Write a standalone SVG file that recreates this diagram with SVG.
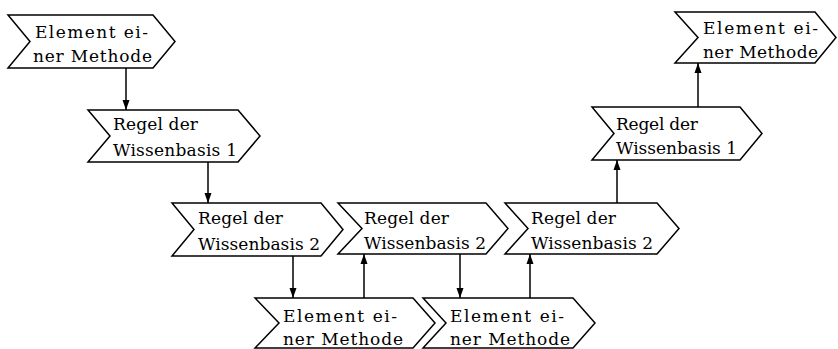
<svg xmlns="http://www.w3.org/2000/svg" width="838" height="349" viewBox="0 0 838 349">
<style>
.n{fill:#fff;stroke:#000;stroke-width:1.5;stroke-linejoin:miter}
.t{font-family:"DejaVu Serif","Liberation Serif",serif;font-size:17px;fill:#000}
.c{stroke:#000;stroke-width:1.5;fill:none;marker-end:url(#ah)}
</style>
<defs>
<marker id="ah" viewBox="0 0 10 10" refX="10" refY="5" markerWidth="11" markerHeight="10" markerUnits="userSpaceOnUse" orient="auto">
<path d="M0,1.5 L10,5 L0,8.5 Z" fill="#000"/>
</marker>
</defs>
<rect width="838" height="349" fill="#fff"/>
<g id="connectors">
<line class="c" x1="126" y1="68" x2="126" y2="110"/>
<line class="c" x1="208" y1="162" x2="208" y2="203"/>
<line class="c" x1="293" y1="256" x2="293" y2="298"/>
<line class="c" x1="364" y1="298" x2="364" y2="254"/>
<line class="c" x1="460" y1="254" x2="460" y2="298"/>
<line class="c" x1="530" y1="298" x2="530" y2="254"/>
<line class="c" x1="617" y1="203" x2="617" y2="160"/>
<line class="c" x1="698" y1="107" x2="698" y2="63"/>
</g>
<g id="n1">
<polygon class="n" points="8,15 153,15 175,41.5 153,68 8,68 30,41.5"/>
<text class="t" x="35" y="38" textLength="113" lengthAdjust="spacing">Element ei-</text>
<text class="t" x="33" y="62" textLength="119" lengthAdjust="spacing">ner Methode</text>
</g>
<g id="n2">
<polygon class="n" points="88,110 238,110 260,136 238,162 88,162 110,136"/>
<text class="t" x="113" y="130" textLength="85" lengthAdjust="spacing">Regel der</text>
<text class="t" x="113" y="156" textLength="124" lengthAdjust="spacing">Wissenbasis 1</text>
</g>
<g id="n3">
<polygon class="n" points="172,203 321,203 343,229.5 321,256 172,256 194,229.5"/>
<text class="t" x="198" y="224" textLength="85" lengthAdjust="spacing">Regel der</text>
<text class="t" x="198" y="250" textLength="122" lengthAdjust="spacing">Wissenbasis 2</text>
</g>
<g id="n4">
<polygon class="n" points="338,203 486,203 508,228.5 486,254 338,254 362,228.5"/>
<text class="t" x="364" y="224" textLength="85" lengthAdjust="spacing">Regel der</text>
<text class="t" x="364" y="249" textLength="122" lengthAdjust="spacing">Wissenbasis 2</text>
</g>
<g id="n5">
<polygon class="n" points="505,203 657,203 679,228.5 657,254 505,254 528,228.5"/>
<text class="t" x="531" y="224" textLength="85" lengthAdjust="spacing">Regel der</text>
<text class="t" x="531" y="249" textLength="122" lengthAdjust="spacing">Wissenbasis 2</text>
</g>
<g id="n6">
<polygon class="n" points="255,298 413,298 435,323 413,348 255,348 279,323"/>
<text class="t" x="283" y="322" textLength="114" lengthAdjust="spacing">Element ei-</text>
<text class="t" x="283" y="345" textLength="120" lengthAdjust="spacing">ner Methode</text>
</g>
<g id="n7">
<polygon class="n" points="423,298 573,298 595,323 573,348 423,348 446,323"/>
<text class="t" x="450" y="322" textLength="114" lengthAdjust="spacing">Element ei-</text>
<text class="t" x="450" y="345" textLength="120" lengthAdjust="spacing">ner Methode</text>
</g>
<g id="n8">
<polygon class="n" points="592,107 740,107 762,133.5 740,160 592,160 614,133.5"/>
<text class="t" x="616" y="130" textLength="82" lengthAdjust="spacing">Regel der</text>
<text class="t" x="616" y="154" textLength="121" lengthAdjust="spacing">Wissenbasis 1</text>
</g>
<g id="n9">
<polygon class="n" points="675,12 815,12 836,37.5 815,63 675,63 698,37.5"/>
<text class="t" x="703" y="34" textLength="115" lengthAdjust="spacing">Element ei-</text>
<text class="t" x="703" y="58" textLength="115" lengthAdjust="spacing">ner Methode</text>
</g>
</svg>
